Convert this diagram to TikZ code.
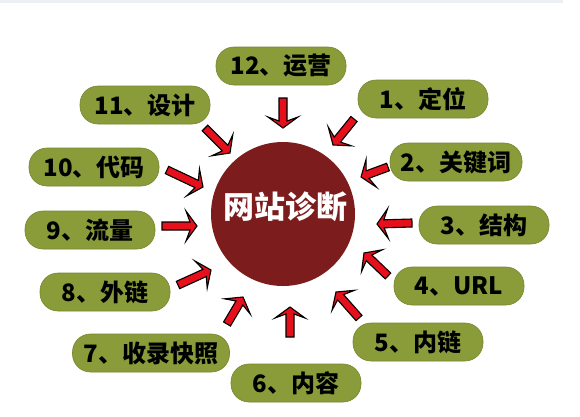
\documentclass[tikz,border=0pt]{standalone}
\usepackage{fontspec}
\setmainfont{Noto Sans CJK SC}[BoldFont={* Black}]
\usetikzlibrary{calc}
\definecolor{pillgreen}{RGB}{138,156,58}
\definecolor{pilledge}{RGB}{118,134,44}
\definecolor{hubred}{RGB}{125,28,28}
\definecolor{arrred}{RGB}{230,16,28}
\definecolor{stripcol}{RGB}{236,239,244}
\tikzset{
  pill/.style={fill=pillgreen, draw=pilledge, line width=0.6pt, rounded corners=18pt,
    minimum width=130pt, minimum height=38pt, inner sep=0pt,
    font=\bfseries\fontsize{24}{24}\selectfont, text=black},
  hub/.style={circle, fill=hubred, minimum size=144pt, inner sep=0pt},
  hubtext/.style={font=\bfseries\fontsize{31}{31}\selectfont, text=white},
  arrowbody/.style={fill=arrred, draw=black, line width=1.1pt, line join=miter},
}
\newcommand{\redarrow}[3]{% #1 name, #2 tail, #3 tip
  \coordinate (#1-b) at ($(#3)!7pt!(#2)$);
  \coordinate (#1-w) at ($(#3)!11pt!(#2)$);
  \filldraw[arrowbody] ($(#2)!4pt!90:(#3)$) -- ($(#1-b)!4pt!90:(#3)$) -- ($(#1-w)!15pt!90:(#3)$) -- (#3)
    -- ($(#1-w)!15pt!-90:(#3)$) -- ($(#1-b)!4pt!-90:(#3)$) -- ($(#2)!4pt!-90:(#3)$) -- cycle;
}
\begin{document}
\begin{tikzpicture}[x=1pt,y=-1pt]
\useasboundingbox (0,0) rectangle (580,416);
\fill[white] (0,0) rectangle (580,416);
\fill[stripcol] (0,0) rectangle (563,3);
% hub
\node[hub] (hub) at (283,214) {};
\node[hubtext] (hubt) at (285,207) {网站诊断};
% pills
\node[pill] (p12) at (281,66) {12、运营};
\node[pill] (p11) at (145,105) {11、设计};
\node[pill] (p1) at (423,99) {1、定位};
\node[pill] (p10) at (94,167) {10、代码};
\node[pill, minimum width=132pt] (p2) at (456,162) {2、关键词};
\node[pill] (p9) at (90,230) {9、流量};
\node[pill] (p3) at (484,225) {3、结构};
\node[pill] (p8) at (105,292) {8、外链};
\node[pill] (p4) at (459,286) {4、URL};
\node[pill, minimum width=157pt] (p7) at (151,353) {7、收录快照};
\node[pill] (p5) at (418,342) {5、内链};
\node[pill] (p6) at (296,383) {6、内容};
% arrow ends
\coordinate (a12s) at (283,98);  \coordinate (a12e) at (283,128);
\coordinate (a1s) at (354,119);  \coordinate (a1e) at (333,145);
\coordinate (a2s) at (388,167);  \coordinate (a2e) at (361,177);
\coordinate (a3s) at (412,223);  \coordinate (a3e) at (377,224);
\coordinate (a4s) at (388,276);  \coordinate (a4e) at (364,253);
\coordinate (a5s) at (359,318);  \coordinate (a5e) at (336,292);
\coordinate (a6s) at (290,337);  \coordinate (a6e) at (290,307);
\coordinate (a7s) at (227,324);  \coordinate (a7e) at (243,297);
\coordinate (a8s) at (178,285);  \coordinate (a8e) at (211,270);
\coordinate (a9s) at (162,226);  \coordinate (a9e) at (197,226);
\coordinate (a10s) at (167,170); \coordinate (a10e) at (203,187);
\coordinate (a11s) at (205,128); \coordinate (a11e) at (230,153);
\redarrow{r12}{a12s}{a12e}
\redarrow{r1}{a1s}{a1e}
\redarrow{r2}{a2s}{a2e}
\redarrow{r3}{a3s}{a3e}
\redarrow{r4}{a4s}{a4e}
\redarrow{r5}{a5s}{a5e}
\redarrow{r6}{a6s}{a6e}
\redarrow{r7}{a7s}{a7e}
\redarrow{r8}{a8s}{a8e}
\redarrow{r9}{a9s}{a9e}
\redarrow{r10}{a10s}{a10e}
\redarrow{r11}{a11s}{a11e}
\end{tikzpicture}
\end{document}
